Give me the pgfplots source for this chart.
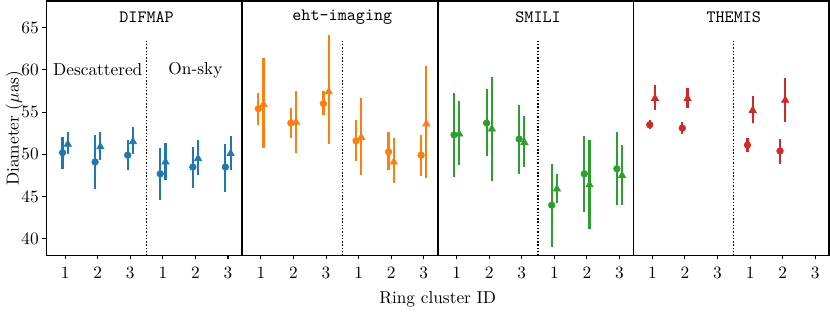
\documentclass[border=0pt]{standalone}
\usepackage{pgfplots}
\usepackage{pgfplotstable}
\pgfplotsset{compat=1.18}
\usepgfplotslibrary{groupplots}
\definecolor{c0}{HTML}{1F77B4}
\definecolor{c1}{HTML}{FF7F0E}
\definecolor{c2}{HTML}{2CA02C}
\definecolor{c3}{HTML}{D62728}

\pgfplotstableread{
x y lo hi
-0.08 50.2 48.3 52.1
0.92 49.1 45.9 52.3
1.92 49.9 48.1 51.7
2.92 47.7 44.6 50.7
3.92 48.5 46.0 50.9
4.92 48.5 45.6 51.2
}\difc
\pgfplotstableread{
x y lo hi
0.08 51.2 50.0 52.6
1.08 50.9 49.3 52.7
2.08 51.5 50.0 53.2
3.08 49.1 47.0 51.4
4.08 49.5 47.6 51.7
5.08 50.1 48.1 52.2
}\dift
\pgfplotstableread{
x y lo hi
-0.08 55.4 53.5 57.3
0.92 53.7 51.9 55.5
1.92 56.0 54.6 57.5
2.92 51.6 49.2 54.1
3.92 50.3 48.1 52.6
4.92 49.9 47.5 52.3
}\ehtc
\pgfplotstableread{
x y lo hi
0.08 55.9 50.7 61.4
1.08 53.8 50.2 57.5
2.08 57.4 51.2 64.1
3.08 52.0 47.6 56.7
4.08 49.1 46.6 51.9
5.08 53.6 47.2 60.4
}\ehtt
\pgfplotstableread{
x y lo hi
-0.08 52.3 47.3 57.3
0.92 53.7 49.8 57.7
1.92 51.8 47.7 55.8
2.92 44.0 39.1 48.9
3.92 47.7 43.2 52.2
4.92 48.3 44.0 52.6
}\smic
\pgfplotstableread{
x y lo hi
0.08 52.4 48.7 56.3
1.08 53.0 46.9 59.2
2.08 51.4 48.5 54.5
3.08 45.9 44.2 47.7
4.08 46.4 41.2 51.7
5.08 47.5 44.0 51.1
}\smit
\pgfplotstableread{
x y lo hi
-0.08 53.5 53.0 54.05
0.92 53.1 52.4 53.8
2.92 51.1 50.3 51.9
3.92 50.4 48.9 51.8
}\themc
\pgfplotstableread{
x y lo hi
0.08 56.6 55.3 58.2
1.08 56.6 55.5 57.9
3.08 55.2 53.65 56.9
4.08 56.4 53.8 59.0
}\themt

\pgfplotsset{
  eb/.style={only marks, color=#1, mark options={solid, fill=#1, draw=#1},
    error bars/y dir=both, error bars/y explicit, error bars/error mark=none,
    error bars/error bar style={line width=1.25pt, color=#1}},
}
\newcommand{\plotpair}[3]{%
  \addplot[eb=#1, mark=*, mark size=1.9pt] table[x=x, y=y,
     y error plus expr=\thisrow{hi}-\thisrow{y},
     y error minus expr=\thisrow{y}-\thisrow{lo}] {#2};
  \addplot[eb=#1, mark=triangle*, mark size=2.4pt] table[x=x, y=y,
     y error plus expr=\thisrow{hi}-\thisrow{y},
     y error minus expr=\thisrow{y}-\thisrow{lo}] {#3};
  \addplot[black, line width=0.8pt, dash pattern=on 0.8pt off 1.1pt] coordinates {(2.5,38.03) (2.5,63.6)};
}

\begin{document}
\begin{tikzpicture}
\begin{groupplot}[
  group style={group size=4 by 1, horizontal sep=0pt},
  width=113.2pt, height=147.4pt, scale only axis,
  xmin=-0.58, xmax=5.43, ymin=38.03, ymax=68.15,
  xtick={0,1,2,3,4,5}, xticklabels={1,2,3,1,2,3},
  ytick={40,45,50,55,60,65},
  tick align=outside, xtick pos=bottom, ytick pos=left,
  major tick length=2.2pt,
  tick style={black, line width=0.6pt},
  axis line style={line width=0.9pt},
  xticklabel style={yshift=-1pt},
  yticklabel style={inner xsep=2pt},
  clip=false,
]
\nextgroupplot[ylabel={Diameter ($\mu$as)}, ylabel shift={-6.5pt}]
\plotpair{c0}{\difc}{\dift}
\node at (axis cs:2.5,66.2) {\texttt{DIFMAP}};
\node at (axis cs:1,60) {Descattered};
\node at (axis cs:4,60) {On-sky};
\nextgroupplot[ytick=\empty, xlabel={Ring cluster ID},
  xlabel style={at={(ticklabel cs:1)}, anchor=north}]
\plotpair{c1}{\ehtc}{\ehtt}
\node at (axis cs:2.5,66.2) {\texttt{eht-imaging}};
\nextgroupplot[ytick=\empty]
\plotpair{c2}{\smic}{\smit}
\node at (axis cs:2.5,66.2) {\texttt{SMILI}};
\nextgroupplot[ytick=\empty]
\plotpair{c3}{\themc}{\themt}
\node at (axis cs:2.5,66.2) {\texttt{THEMIS}};
\end{groupplot}
\end{tikzpicture}
\end{document}
